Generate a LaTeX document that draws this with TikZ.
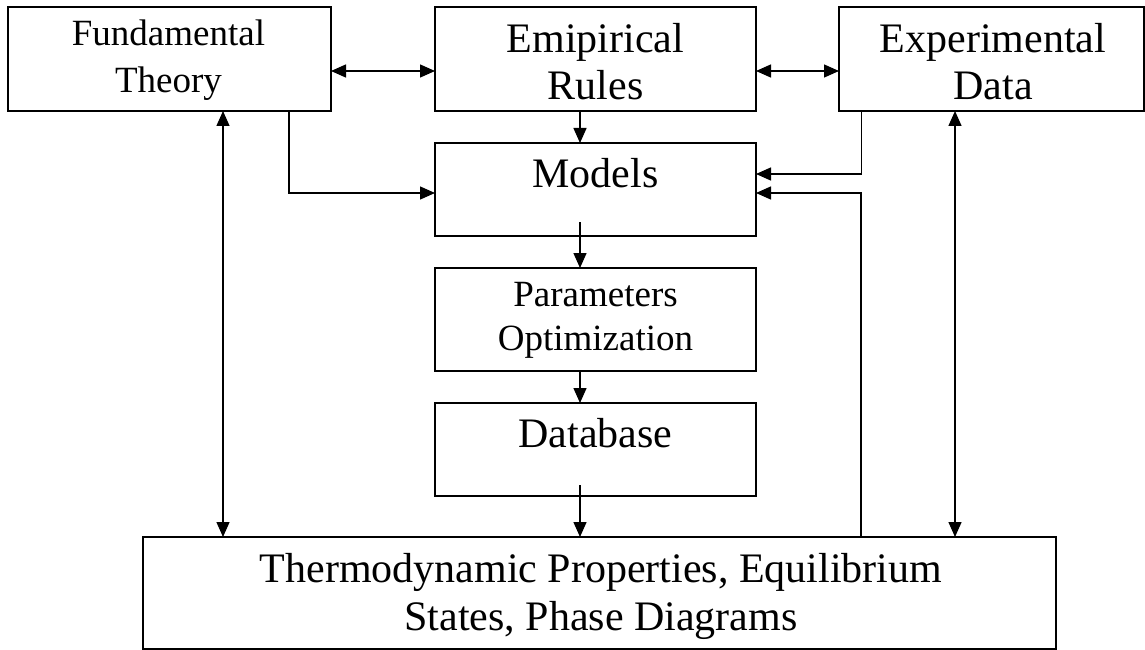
\documentclass[tikz,border=0pt]{standalone}
\usepackage{fontspec}
\setmainfont{Liberation Serif}
\usetikzlibrary{arrows.meta}
\begin{document}
\begin{tikzpicture}[x=1pt,y=-1pt, line width=1.4pt,
  box/.style={draw, rectangle, inner sep=0pt, outer sep=0pt, anchor=north west},
  big/.style={font=\fontsize{42}{47}\selectfont, anchor=base, inner sep=0pt},
  small/.style={font=\fontsize{37}{44}\selectfont, anchor=base, inner sep=0pt},
  wide/.style={font=\fontsize{42}{48}\selectfont, anchor=base, inner sep=0pt},
  tip/.style={-{Triangle[length=15pt,width=13pt]}},
  both/.style={{Triangle[length=15pt,width=13pt]}-{Triangle[length=15pt,width=13pt]}}
]
\useasboundingbox (0,0) rectangle (1145,650);

% boxes
\node[box, minimum width=323pt, minimum height=104pt] (fund) at (8,7) {};
\node[box, minimum width=321pt, minimum height=104pt] (emp) at (435,7) {};
\node[box, minimum width=305pt, minimum height=104pt] (exp) at (839,7) {};
\node[box, minimum width=321pt, minimum height=93pt] (models) at (435,143) {};
\node[box, minimum width=321pt, minimum height=103pt] (params) at (435,268) {};
\node[box, minimum width=321pt, minimum height=93pt] (db) at (435,403) {};
\node[box, minimum width=913pt, minimum height=112pt] (thermo) at (143,537) {};

% labels
\node[small] (fundA) at (168.5,46) {Fundamental};
\node[small] (fundB) at (168.5,93) {Theory};
\node[big] (empA) at (595.5,53) {Emipirical};
\node[big] (empB) at (595.5,100) {Rules};
\node[big] (expA) at (993,53) {Experimental};
\node[big] (expB) at (993,100) {Data};
\node[big] (modA) at (595.5,187) {Models};
\node[small] (parA) at (595.5,306) {Parameters};
\node[small] (parB) at (595.5,350) {Optimization};
\node[big] (dbA) at (595.5,447) {Database};
\node[wide] (thA) at (601,582) {Thermodynamic Properties, Equilibrium};
\node[wide] (thB) at (601,630) {States, Phase Diagrams};

% connectors
\draw[both] ([yshift=-12pt]fund.east) -- ([yshift=-12pt]emp.west);
\draw[both] ([yshift=-12pt]emp.east) -- ([yshift=-12pt]exp.west);
\draw[tip] ([xshift=-15.5pt]emp.south) -- ([xshift=-15.5pt]models.north);
\draw[tip] ([xshift=119.5pt]fund.south) |- ([yshift=-3.5pt]models.west);
\draw[tip] ([xshift=-130pt]exp.south) |- ([yshift=15.5pt]models.east);
\draw[tip] ([xshift=261.5pt]thermo.north) |- ([yshift=-3.5pt]models.east);
\coordinate (fl) at ([xshift=53.5pt]fund.south);
\draw[both] (fl) -- (fl |- thermo.north);
\coordinate (el) at ([xshift=-36.5pt]exp.south);
\draw[both] (el) -- (el |- thermo.north);
\coordinate (ms) at ([xshift=-15.5pt,yshift=14pt]models.south);
\draw[tip] (ms) -- (ms |- params.north);
\draw[tip] ([xshift=-15.5pt]params.south) -- ([xshift=-15.5pt]db.north);
\coordinate (ds) at ([xshift=-15.5pt,yshift=11pt]db.south);
\draw[tip] (ds) -- (ds |- thermo.north);
\end{tikzpicture}
\end{document}
